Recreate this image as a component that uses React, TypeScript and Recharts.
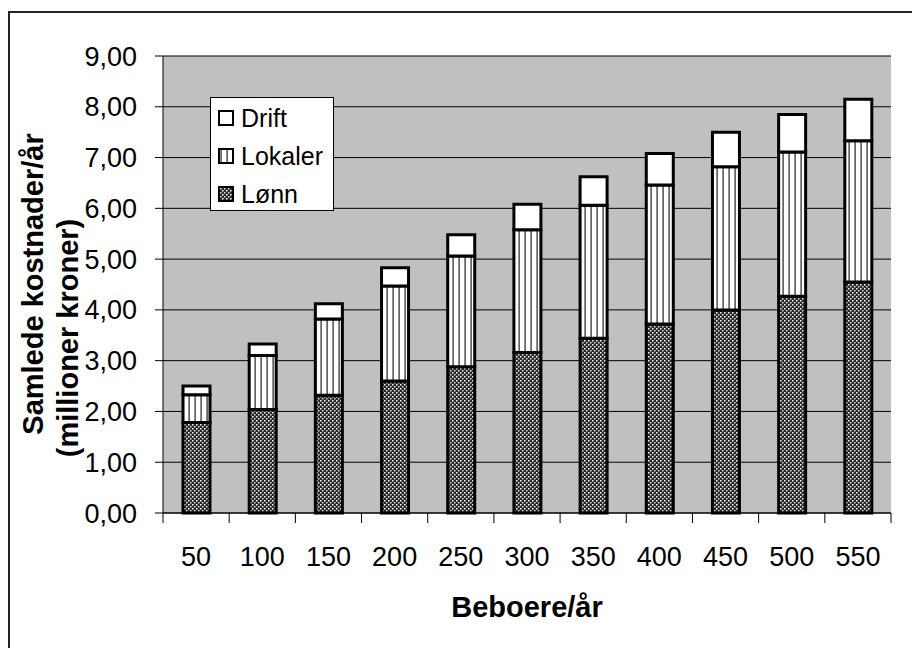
import React from 'react';
import { BarChart, Bar, XAxis, YAxis, CartesianGrid, Legend } from 'recharts';

// Beboere/år (categories)
const categories = ['50', '100', '150', '200', '250', '300', '350', '400', '450', '500', '550'];

// segment values, millioner kroner
const lonn = [1.78, 2.04, 2.32, 2.6, 2.88, 3.16, 3.44, 3.72, 4.0, 4.27, 4.55];
const lokaler = [0.55, 1.06, 1.5, 1.87, 2.18, 2.42, 2.62, 2.74, 2.82, 2.84, 2.78];
const drift = [0.17, 0.23, 0.3, 0.36, 0.42, 0.5, 0.56, 0.62, 0.68, 0.74, 0.82];

const yTicks = [0, 1, 2, 3, 4, 5, 6, 7, 8, 9];

const legendItems = [
    { name: 'Drift', fill: 'url(#driftFill)' },
    { name: 'Lokaler', fill: 'url(#lokalerFill)' },
    { name: 'Lønn', fill: 'url(#lonnFill)' },
];

const data = categories.map((c, i) => ({
    beboere: c,
    lonn: lonn[i],
    lokaler: lokaler[i],
    drift: drift[i],
}));

const FONT = '"Liberation Sans", Arial, sans-serif';

const formatTick = (v: number) => v.toFixed(2).replace('.', ',');

function LegendBox() {
    return (
        <div
            style={{
                width: 124,
                height: 114,
                boxSizing: 'border-box',
                border: '1px solid #000',
                background: '#fff',
                paddingTop: 1,
                fontFamily: FONT,
            }}
        >
            {legendItems.map((item) => (
                <div key={item.name} style={{ display: 'flex', alignItems: 'center', height: 38 }}>
                    <svg width={16} height={16} style={{ marginLeft: 7, marginRight: 7 }}>
                        <rect x={1} y={1} width={14} height={14} fill={item.fill} stroke="#000" strokeWidth={2} />
                    </svg>
                    <span style={{ fontSize: 25, color: '#000', lineHeight: '25px' }}>{item.name}</span>
                </div>
            ))}
        </div>
    );
}

// category label at the band centre, tick marks at the band edges (Excel style)
function CategoryTick(props: any) {
    const { x, y, payload, index } = props;
    const half = payload && payload.offset ? payload.offset : 33.1;
    const last = index === categories.length - 1;
    return (
        <g>
            <line x1={x - half} y1={y} x2={x - half} y2={y + 10} stroke="#000" />
            {last && <line x1={x + half} y1={y} x2={x + half} y2={y + 10} stroke="#000" />}
            <text x={x} y={y + 34} dy="0.71em" textAnchor="middle" fontSize={27} fill="#000" fontFamily={FONT}>
                {payload.value}
            </text>
        </g>
    );
}

function YTitle() {
    const style = { fontFamily: FONT, fontSize: 29, fontWeight: 700, fill: '#000' };
    return (
        <g>
            <text transform="translate(43,284) rotate(-90)" textAnchor="middle" style={style}>
                Samlede kostnader/år
            </text>
            <text transform="translate(78,338) rotate(-90)" textAnchor="middle" style={style}>
                (millioner kroner)
            </text>
        </g>
    );
}

export default function App() {
    return (
        <div
            style={{
                position: 'absolute',
                left: 0,
                top: 0,
                width: 912,
                height: 648,
                overflow: 'hidden',
                background: '#fff',
                fontFamily: FONT,
            }}
        >
            <div
                style={{
                    position: 'absolute',
                    left: 8,
                    top: 11,
                    width: 960,
                    height: 700,
                    border: '2px solid #222',
                }}
            />
            <BarChart
                width={912}
                height={648}
                data={data}
                margin={{ top: 56, right: 21, left: 0, bottom: 0 }}
                barSize={27}
                style={{ position: 'absolute', left: 0, top: 0 }}
            >
                <defs>
                    <pattern id="lonnFill" width={4} height={4} patternUnits="userSpaceOnUse">
                        <rect width={4} height={4} fill="#2a2a2a" />
                        <rect x={0} y={0} width={1.5} height={1.5} fill="#fff" />
                        <rect x={2} y={2} width={1.5} height={1.5} fill="#ddd" />
                    </pattern>
                    <pattern id="lokalerFill" width={6} height={6} patternUnits="userSpaceOnUse">
                        <rect width={6} height={6} fill="#fff" />
                        <rect x={2.5} y={0} width={1.2} height={6} fill="#222" />
                    </pattern>
                    <pattern id="driftFill" width={6} height={6} patternUnits="userSpaceOnUse">
                        <rect width={6} height={6} fill="#fff" />
                    </pattern>
                </defs>
                <CartesianGrid vertical={false} stroke="#000" fill="#C0C0C0" fillOpacity={1} />
                <XAxis
                    dataKey="beboere"
                    height={135}
                    tickLine={false}
                    tickSize={0}
                    tickMargin={0}
                    axisLine={{ stroke: '#000', strokeWidth: 1 }}
                    tick={CategoryTick}
                    interval={0}
                    label={{
                        value: 'Beboere/år',
                        position: 'insideBottom',
                        offset: 31,
                        style: { fontSize: 29, fontWeight: 700, fill: '#000', fontFamily: FONT },
                    }}
                />
                {/* plot-area frame, top and right */}
                <XAxis
                    xAxisId="frameTop"
                    orientation="top"
                    dataKey="beboere"
                    height={0}
                    tick={false}
                    tickLine={false}
                    axisLine={{ stroke: '#808080', strokeWidth: 2 }}
                />
                <YAxis
                    domain={[0, 9]}
                    ticks={yTicks}
                    interval={0}
                    width={163}
                    tickFormatter={formatTick}
                    axisLine={{ stroke: '#000' }}
                    tickLine={{ stroke: '#000' }}
                    tickSize={8}
                    tickMargin={18}
                    tick={{ fontSize: 27, fill: '#000', fontFamily: FONT }}
                    label={{ content: YTitle }}
                />
                <YAxis
                    yAxisId="frameRight"
                    orientation="right"
                    domain={[0, 9]}
                    width={0}
                    tick={false}
                    tickLine={false}
                    axisLine={{ stroke: '#808080', strokeWidth: 2 }}
                />
                <Legend
                    content={LegendBox}
                    layout="vertical"
                    align="center"
                    verticalAlign="middle"
                    wrapperStyle={{ left: 210, top: 97, width: 124, height: 114 }}
                />
                <Bar dataKey="lonn" name="Lønn" stackId="a" fill="url(#lonnFill)" stroke="#000" strokeWidth={3} isAnimationActive={false} />
                <Bar dataKey="lokaler" name="Lokaler" stackId="a" fill="url(#lokalerFill)" stroke="#000" strokeWidth={3} isAnimationActive={false} />
                <Bar dataKey="drift" name="Drift" stackId="a" fill="url(#driftFill)" stroke="#000" strokeWidth={3} isAnimationActive={false} />
            </BarChart>
        </div>
    );
}
